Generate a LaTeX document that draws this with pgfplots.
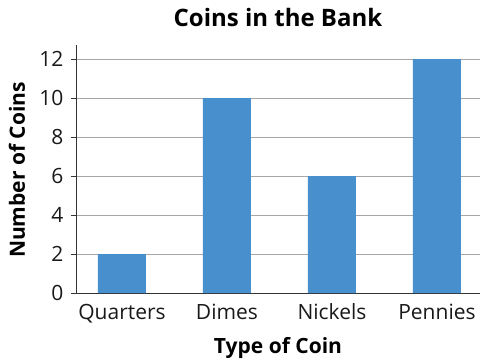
\documentclass[border=0pt]{standalone}
\usepackage{pgfplots}
\pgfplotsset{compat=1.18}
\usepackage{fontspec}
\setmainfont{Open Sans}
\definecolor{barblue}{HTML}{488FCD}
\begin{document}
\begin{tikzpicture}
\useasboundingbox (-76pt,-69pt) rectangle (406pt,293pt);
\begin{axis}[
  at={(0,0)}, anchor=south west,
  scale only axis,
  width=404pt, height=248pt,
  xmin=-0.438, xmax=3.41,
  ymin=0, ymax=12.72,
  ytick={0,2,4,6,8,10,12},
  xtick={0,1,2,3},
  xticklabels={Quarters,Dimes,Nickels,Pennies},
  major x tick style={draw=none},
  ytick style={black!80, line width=0.8pt},
  tick align=outside,
  major tick length=5pt,
  axis x line*=bottom, axis y line*=left,
  axis line style={black!80, line width=0.9pt, -},
  ymajorgrids,
  grid style={black!35, line width=0.8pt},
  /pgf/number format/assume math mode=true,
  tick label style={font=\fontsize{21}{24}\selectfont, text=black!90},
  x tick label style={anchor=base, yshift=-21pt},
  y tick label style={anchor=east, xshift=-4pt},
  xlabel={Type of Coin}, ylabel={Number of Coins},
  label style={font=\fontsize{21}{24}\selectfont\bfseries},
  xlabel style={at={(axis description cs:0.5,0)}, anchor=center, yshift=-55pt},
  ylabel style={at={(axis description cs:0,0.496)}, anchor=center, yshift=59pt},
  title={Coins in the Bank},
  title style={font=\fontsize{24}{28}\selectfont\bfseries, at={(axis description cs:0.5,1)}, anchor=center, yshift=22pt},
  ybar, bar width=48pt,
  enlarge x limits=false,
]
\addplot[fill=barblue, draw=none] coordinates {(0,2) (1,10) (2,6) (3,12)};
\end{axis}
\end{tikzpicture}
\end{document}
